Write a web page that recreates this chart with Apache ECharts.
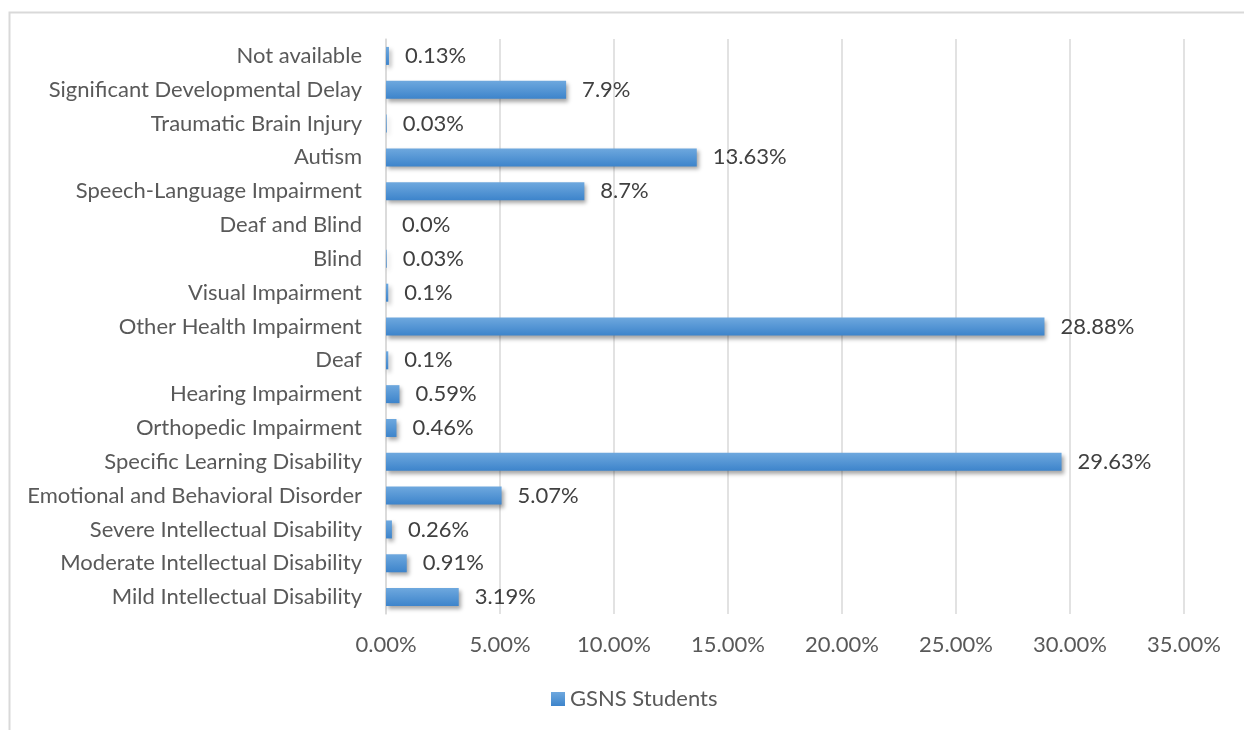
<!DOCTYPE html>
<html>
<head>
<meta charset="utf-8">
<script src="https://cdn.jsdelivr.net/npm/echarts@6/dist/echarts.min.js"></script>
<style>html,body{margin:0;padding:0;background:#fff;}#chart{width:1244px;height:730px;}</style>
</head>
<body>
<div id="chart"></div>
<script>
const categories = [
  "Mild Intellectual Disability",
  "Moderate Intellectual Disability",
  "Severe Intellectual Disability",
  "Emotional and Behavioral Disorder",
  "Specific Learning Disability",
  "Orthopedic Impairment",
  "Hearing Impairment",
  "Deaf",
  "Other Health Impairment",
  "Visual Impairment",
  "Blind",
  "Deaf and Blind",
  "Speech-Language Impairment",
  "Autism",
  "Traumatic Brain Injury",
  "Significant Developmental Delay",
  "Not available"
];
const values = [3.19, 0.91, 0.26, 5.07, 29.63, 0.46, 0.59, 0.1, 28.88, 0.1, 0.03, 0.0, 8.7, 13.63, 0.03, 7.9, 0.13];
const valueLabels = ["3.19%", "0.91%", "0.26%", "5.07%", "29.63%", "0.46%", "0.59%", "0.1%", "28.88%", "0.1%", "0.03%", "0.0%", "8.7%", "13.63%", "0.03%", "7.9%", "0.13%"];
const seriesName = "GSNS Students";
const xTicks = { min: 0, max: 35, interval: 5 };

const FONT = "Lato";
const chart = echarts.init(document.getElementById('chart'), null, {renderer: 'canvas'});
const barColor = new echarts.graphic.LinearGradient(0, 0, 0, 1, [
  {offset: 0, color: '#6ea8de'},
  {offset: 1, color: '#3d84cb'}
]);
chart.setOption({
  animation: false,
  backgroundColor: '#fff',
  graphic: [{
    type: 'rect', left: 7, top: 10, shape: {width: 1300, height: 800},
    style: {fill: 'none', stroke: '#d9d9d9', lineWidth: 2}
  }],
  grid: {left: 386, right: 60, top: 39, bottom: 116, containLabel: false},
  legend: {
    bottom: 15, left: 546,
    data: [seriesName],
    icon: 'rect', itemWidth: 14, itemHeight: 14, itemGap: 6,
    textStyle: {fontFamily: FONT, fontSize: 22, color: '#595959'}
  },
  xAxis: {
    type: 'value', min: xTicks.min, max: xTicks.max, interval: xTicks.interval,
    axisLine: {show: false}, axisTick: {show: false},
    splitLine: {show: true, lineStyle: {color: '#d9d9d9', width: 1.5}},
    axisLabel: {
      margin: 20, fontFamily: FONT, fontSize: 22, color: '#595959',
      formatter: v => v.toFixed(2) + '%'
    }
  },
  yAxis: {
    type: 'category', data: categories,
    axisLine: {show: true, lineStyle: {color: '#d9d9d9', width: 1.5}},
    axisTick: {show: false},
    axisLabel: {margin: 24, fontFamily: FONT, fontSize: 22, color: '#595959'}
  },
  series: [{
    name: seriesName, type: 'bar', data: values, barWidth: 18,
    itemStyle: {
      color: barColor,
      shadowColor: 'rgba(0,0,0,0.35)', shadowBlur: 4, shadowOffsetX: 2, shadowOffsetY: 3
    },
    label: {
      show: true, position: 'right', distance: 16,
      fontFamily: FONT, fontSize: 22, color: '#404040',
      formatter: p => valueLabels[p.dataIndex]
    }
  }]
});
</script>
</body>
</html>
